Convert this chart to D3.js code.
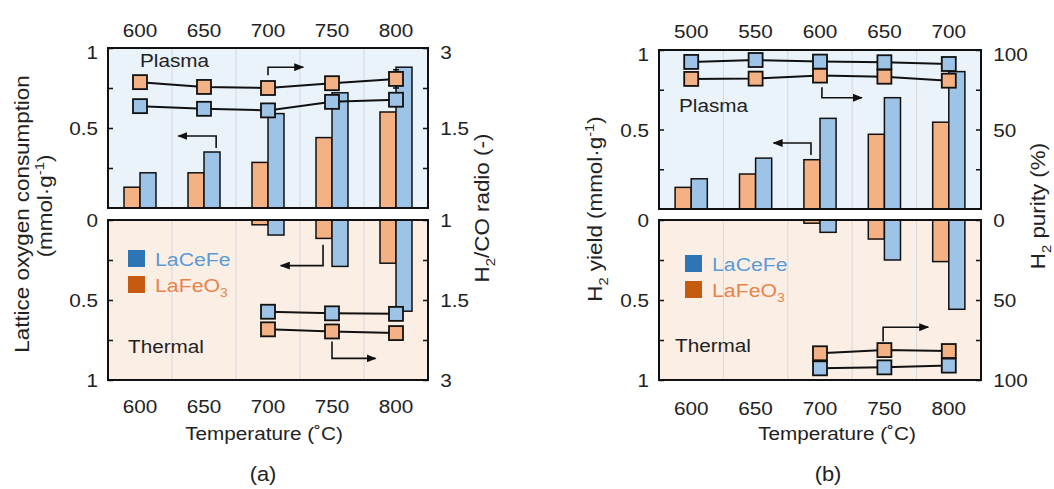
<!DOCTYPE html>
<html>
<head>
<meta charset="utf-8">
<script src="https://cdn.jsdelivr.net/npm/d3@7"></script>
<style>
  body { margin: 0; background: #fff; }
  svg { display: block; font-family: Arial, "Liberation Sans", sans-serif; }
</style>
</head>
<body>
<svg id="chart" width="1054" height="489"></svg>
<script>

// ---- data, panel (a) ----
var tempsA = ["600", "650", "700", "750", "800"];
var plasmaOxyLaFeO3 = [0.13, 0.22, 0.285, 0.44, 0.60];
var plasmaOxyLaCeFe = [0.22, 0.35, 0.59, 0.72, 0.88];
var plasmaRatioLaFeO3 = [2.36, 2.27, 2.25, 2.34, 2.42];
var plasmaRatioErrLaFeO3 = [0, 0, 0, 0, 0.17];
var plasmaRatioLaCeFe = [1.91, 1.86, 1.83, 1.99, 2.03];
var thermalOxyLaFeO3 = [0, 0, 0.03, 0.115, 0.27];
var thermalOxyLaCeFe = [0, 0, 0.094, 0.29, 0.57];
var thermalLineTemps = ["700", "750", "800"];
var thermalRatioLaFeO3 = [2.05, 2.09, 2.12];
var thermalRatioLaCeFe = [1.72, 1.75, 1.76];

// ---- data, panel (b) ----
var plasmaTempsB = ["500", "550", "600", "650", "700"];
var thermalTempsB = ["600", "650", "700", "750", "800"];
var plasmaH2LaFeO3 = [0.136, 0.22, 0.31, 0.47, 0.546];
var plasmaH2LaCeFe = [0.19, 0.32, 0.57, 0.70, 0.864];
var plasmaPurityLaFeO3 = [81.8, 82.0, 83.9, 83.2, 80.7];
var plasmaPurityLaCeFe = [92.5, 93.7, 92.7, 92.3, 91.2];
var thermalH2LaFeO3 = [0, 0, 0.02, 0.119, 0.26];
var thermalH2LaCeFe = [0, 0, 0.077, 0.25, 0.558];
var thermalPurityLaFeO3 = [83.3, 81.3, 81.9];
var thermalPurityLaCeFe = [92.7, 92.1, 91.0];

// tick values
var leftTicks = [0, 0.25, 0.5, 0.75, 1];
var ratioTicks = [1, 1.25, 1.5, 2.25, 3];
var purityTicks = [0, 25, 50, 75, 100];

// colours
var blueFill = "#9dc3e6", orangeFill = "#f4b183";
var blueKey = "#2e75b6", orangeKey = "#c55a11";
var blueText = "#5b9bd5", orangeText = "#e8834a";
var ink = "#222";
var SX = 1.12;   // source font is a bit wider than Arial

var svg = d3.select("#chart");

// arrow head
svg.append("defs").append("marker")
  .attr("id", "head")
  .attr("markerUnits", "userSpaceOnUse")
  .attr("markerWidth", 10).attr("markerHeight", 8)
  .attr("refX", 9).attr("refY", 4)
  .attr("orient", "auto")
  .append("path").attr("d", "M0,0 L10,4 L0,8 Z").attr("fill", "#111");

// text with optional sub/superscripts, widened along its baseline
function addText(g, x, y, parts, o) {
  o = o || {};
  var size = o.size || 18.5;
  var t = g.append("text")
    .attr("transform", "translate(" + x + "," + y + ") rotate(" + (o.rotate || 0) + ") scale(" + SX + ",1)")
    .attr("text-anchor", o.anchor || "start")
    .style("font-size", size + "px")
    .attr("fill", o.color || ink);
  if (typeof parts === "string") parts = [[parts]];
  var shift = 0;
  parts.forEach(function(p) {
    var dy = 0, small = false;
    if (p[1] === "sub") { dy = size * 0.28; small = true; }
    if (p[1] === "sup") { dy = -size * 0.4; small = true; }
    var ts = t.append("tspan").text(p[0]).attr("dy", dy - shift);
    if (small) ts.style("font-size", (size * 0.66) + "px");
    shift = dy;
  });
  return t;
}

function drawPanel(c) {
  var g = svg.append("g");
  var yMidTop = (c.top0 + c.top1) / 2, yMidBot = (c.bot0 + c.bot1) / 2;

  var xTop = d3.scaleBand().domain(c.topCats).range([c.left, c.right]).paddingInner(0.5).paddingOuter(0.25);
  var xBot = d3.scaleBand().domain(c.botCats).range([c.left, c.right]).paddingInner(0.5).paddingOuter(0.25);
  var xSub = d3.scaleBand().domain(["LaFeO3", "LaCeFe"]).range([0, xTop.bandwidth()]);
  var xIdx = d3.scaleLinear().domain([-0.5, c.topCats.length - 0.5]).range([c.left, c.right]);

  var yTop = d3.scaleLinear().domain([0, 1]).range([c.top1, c.top0]);
  var yBot = d3.scaleLinear().domain([0, 1]).range([c.bot0, c.bot1]);
  var rTop = d3.scaleLinear().domain(c.rDomain).range([c.top1, yMidTop, c.top0]);
  var rBot = d3.scaleLinear().domain(c.rDomain).range([c.bot0, yMidBot, c.bot1]);

  // backgrounds
  g.append("rect").attr("x", c.left).attr("y", c.top0)
    .attr("width", c.right - c.left).attr("height", c.top1 - c.top0).attr("fill", "#eaf2fa");
  g.append("rect").attr("x", c.left).attr("y", c.bot0)
    .attr("width", c.right - c.left).attr("height", c.bot1 - c.bot0).attr("fill", "#fbefe5");

  // vertical grid between categories
  var bounds = d3.range(1, c.topCats.length).map(function(i) { return i - 0.5; });
  [[c.top0, c.top1], [c.bot0, c.bot1]].forEach(function(yy) {
    g.selectAll(null).data(bounds).enter().append("line")
      .attr("x1", function(d) { return xIdx(d); }).attr("x2", function(d) { return xIdx(d); })
      .attr("y1", yy[0]).attr("y2", yy[1])
      .attr("stroke", "#d5d8dc").attr("stroke-width", 1);
  });

  // bars
  function bars(x, cats, vals, key, fill, up) {
    var rows = cats.map(function(k, i) { return { k: k, v: vals[i] }; }).filter(function(d) { return d.v > 0; });
    g.selectAll(null).data(rows).enter().append("rect")
      .attr("x", function(d) { return x(d.k) + xSub(key); })
      .attr("width", xSub.bandwidth())
      .attr("y", function(d) { return up ? yTop(d.v) : yBot(0); })
      .attr("height", function(d) { return up ? yTop(0) - yTop(d.v) : yBot(d.v) - yBot(0); })
      .attr("fill", fill).attr("stroke", "#111").attr("stroke-width", 1.5);
  }
  bars(xTop, c.topCats, c.topBars[0], "LaFeO3", orangeFill, true);
  bars(xTop, c.topCats, c.topBars[1], "LaCeFe", blueFill, true);
  bars(xBot, c.botCats, c.botBars[0], "LaFeO3", orangeFill, false);
  bars(xBot, c.botCats, c.botBars[1], "LaCeFe", blueFill, false);

  // lines with square markers
  function series(x, cats, vals, yS, fill, err) {
    var pts = cats.map(function(k, i) { return { k: k, v: vals[i], e: err ? err[i] : 0 }; });
    var cx = function(d) { return x(d.k) + x.bandwidth() / 2; };
    g.append("path").datum(pts)
      .attr("fill", "none").attr("stroke", "#111").attr("stroke-width", 2)
      .attr("d", d3.line().x(cx).y(function(d) { return yS(d.v); }));
    var eb = pts.filter(function(d) { return d.e > 0; });
    eb.forEach(function(d) {
      var x0 = cx(d), ya = yS(d.v + d.e), yb = yS(d.v - d.e);
      g.append("path").attr("d", "M" + x0 + "," + ya + "V" + yb + "M" + (x0 - 3) + "," + ya + "H" + (x0 + 3) + "M" + (x0 - 3) + "," + yb + "H" + (x0 + 3))
        .attr("stroke", "#111").attr("stroke-width", 1.5).attr("fill", "none");
    });
    g.selectAll(null).data(pts).enter().append("rect")
      .attr("x", function(d) { return cx(d) - 7; })
      .attr("y", function(d) { return yS(d.v) - 7; })
      .attr("width", 14).attr("height", 14)
      .attr("fill", fill).attr("stroke", "#111").attr("stroke-width", 1.8);
  }
  series(xTop, c.topCats, c.topLines[0], rTop, orangeFill, c.topErr);
  series(xTop, c.topCats, c.topLines[1], rTop, blueFill);
  series(xBot, c.lineBotCats, c.botLines[0], rBot, orangeFill);
  series(xBot, c.lineBotCats, c.botLines[1], rBot, blueFill);

  // bent arrows, points in (category index, left-axis value)
  c.arrows.forEach(function(a) {
    var yS = a.panel === "top" ? yTop : yBot;
    g.append("path")
      .attr("d", d3.line().x(function(p) { return xIdx(p[0]); }).y(function(p) { return yS(p[1]); })(a.pts))
      .attr("fill", "none").attr("stroke", "#111").attr("stroke-width", 1.6)
      .attr("marker-end", "url(#head)");
  });

  // frames
  [[c.top0, c.top1], [c.bot0, c.bot1]].forEach(function(yy) {
    g.append("rect").attr("x", c.left).attr("y", yy[0])
      .attr("width", c.right - c.left).attr("height", yy[1] - yy[0])
      .attr("fill", "none").attr("stroke", "#111").attr("stroke-width", 2);
  });

  // y axes, inward ticks
  function yAxis(axisFn, scale, ticks, shown, xPos, topLabel) {
    var ax = g.append("g").attr("transform", "translate(" + xPos + ",0)")
      .call(axisFn(scale).tickValues(ticks).tickSize(-5).tickPadding(axisFn === d3.axisLeft ? 9 : 11)
        .tickFormat(function(v) { return shown.indexOf(v) >= 0 ? String(v) : ""; }));
    ax.select(".domain").remove();
    ax.selectAll("line").attr("stroke", "#111").attr("stroke-width", 1.5);
    ax.selectAll("text").style("font-size", "18.5px").style("font-family", "Arial, 'Liberation Sans', sans-serif")
      .attr("fill", ink).attr("transform", "scale(" + SX + ",1)")
      .attr("y", function(v) { return v === topLabel ? 5 : 1; });
  }
  yAxis(d3.axisLeft, yTop, leftTicks.slice(1), [0.5, 1], c.left, 1);
  yAxis(d3.axisLeft, yBot, leftTicks, [0, 0.5, 1], c.left, null);
  yAxis(d3.axisRight, rTop, c.rTicks.slice(1), c.rShownTop, c.right, c.rDomain[2]);
  yAxis(d3.axisRight, rBot, c.rTicks, c.rShownBot, c.right, null);

  // x axes: labels only
  function xAxis(axisFn, scale, yPos, pad) {
    var ax = g.append("g").attr("transform", "translate(0," + yPos + ")")
      .call(axisFn(scale).tickSize(0).tickPadding(pad));
    ax.select(".domain").remove();
    ax.selectAll("text").style("font-size", "18.5px").style("font-family", "Arial, 'Liberation Sans', sans-serif")
      .attr("fill", ink).attr("transform", "scale(" + SX + ",1)");
  }
  xAxis(d3.axisTop, xTop, c.top0, c.top0 - c.topLabelY);
  xAxis(d3.axisBottom, xBot, c.bot1, c.botLabelY - c.bot1 - 13);

  // labels
  addText(g, c.plasma[0], c.plasma[1], "Plasma");
  addText(g, c.thermal[0], c.thermal[1], "Thermal");
  g.append("rect").attr("x", c.legend[0]).attr("y", c.legend[1] - 16).attr("width", 17).attr("height", 17).attr("fill", blueKey);
  g.append("rect").attr("x", c.legend[0]).attr("y", c.legend[1] + 10).attr("width", 17).attr("height", 17).attr("fill", orangeKey);
  addText(g, c.legend[0] + 27, c.legend[1], "LaCeFe", { color: blueText, size: 19 });
  addText(g, c.legend[0] + 27, c.legend[1] + 26, [["LaFeO"], ["3", "sub"]], { color: orangeText, size: 19 });
  addText(g, c.xTitle[0], c.xTitle[1], "Temperature (\u02daC)", { anchor: "middle" });
  addText(g, c.tag[0], c.tag[1], c.tagText, { anchor: "middle", size: 19.5 });
  c.yTitles.forEach(function(t) {
    addText(g, t.x, t.y, t.parts, { anchor: "middle", rotate: -90, size: 20 });
  });
}

drawPanel({
  left: 108, right: 428, top0: 48, top1: 208, bot0: 220, bot1: 380,
  topCats: tempsA, botCats: tempsA, lineBotCats: thermalLineTemps,
  topBars: [plasmaOxyLaFeO3, plasmaOxyLaCeFe],
  botBars: [thermalOxyLaFeO3, thermalOxyLaCeFe],
  topLines: [plasmaRatioLaFeO3, plasmaRatioLaCeFe], topErr: plasmaRatioErrLaFeO3,
  botLines: [thermalRatioLaFeO3, thermalRatioLaCeFe],
  rDomain: [1, 1.5, 3], rTicks: ratioTicks, rShownTop: [1.5, 3], rShownBot: [1, 1.5, 3],
  arrows: [
    { panel: "top", pts: [[2.0, 0.83], [2.0, 0.88], [2.55, 0.88]] },
    { panel: "top", pts: [[1.19, 0.375], [1.19, 0.45], [0.6, 0.45]] },
    { panel: "bot", pts: [[2.86, 0.155], [2.86, 0.285], [2.2, 0.285]] },
    { panel: "bot", pts: [[3.0, 0.76], [3.0, 0.865], [3.68, 0.865]] }
  ],
  topLabelY: 37, botLabelY: 413,
  plasma: [140, 67], thermal: [128, 353], legend: [128, 266],
  xTitle: [264, 440], tag: [263, 481], tagText: "(a)",
  yTitles: [
    { x: 29, y: 214, parts: "Lattice oxygen consumption" },
    { x: 52, y: 206, parts: [["(mmol\u00b7g"], ["-1", "sup"], [")"]] },
    { x: 489, y: 208, parts: [["H"], ["2", "sub"], ["/CO radio (-)"]] }
  ]
});

drawPanel({
  left: 659, right: 981, top0: 50, top1: 209, bot0: 220, bot1: 380,
  topCats: plasmaTempsB, botCats: thermalTempsB, lineBotCats: thermalLineTemps,
  topBars: [plasmaH2LaFeO3, plasmaH2LaCeFe],
  botBars: [thermalH2LaFeO3, thermalH2LaCeFe],
  topLines: [plasmaPurityLaFeO3, plasmaPurityLaCeFe], topErr: null,
  botLines: [thermalPurityLaFeO3, thermalPurityLaCeFe],
  rDomain: [0, 50, 100], rTicks: purityTicks, rShownTop: [50, 100], rShownBot: [0, 50, 100],
  arrows: [
    { panel: "top", pts: [[2.03, 0.765], [2.03, 0.70], [2.65, 0.70]] },
    { panel: "top", pts: [[1.86, 0.34], [1.86, 0.415], [1.28, 0.415]] },
    { panel: "bot", pts: [[2.98, 0.76], [2.98, 0.67], [3.68, 0.67]] }
  ],
  topLabelY: 38, botLabelY: 415,
  plasma: [679, 112], thermal: [675, 352], legend: [685, 271],
  xTitle: [837, 440], tag: [828, 481], tagText: "(b)",
  yTitles: [
    { x: 602, y: 209, parts: [["H"], ["2", "sub"], [" yield (mmol\u00b7g"], ["-1", "sup"], [")"]] },
    { x: 1045, y: 206, parts: [["H"], ["2", "sub"], [" purity (%)"]] }
  ]
});
</script>
</body>
</html>
